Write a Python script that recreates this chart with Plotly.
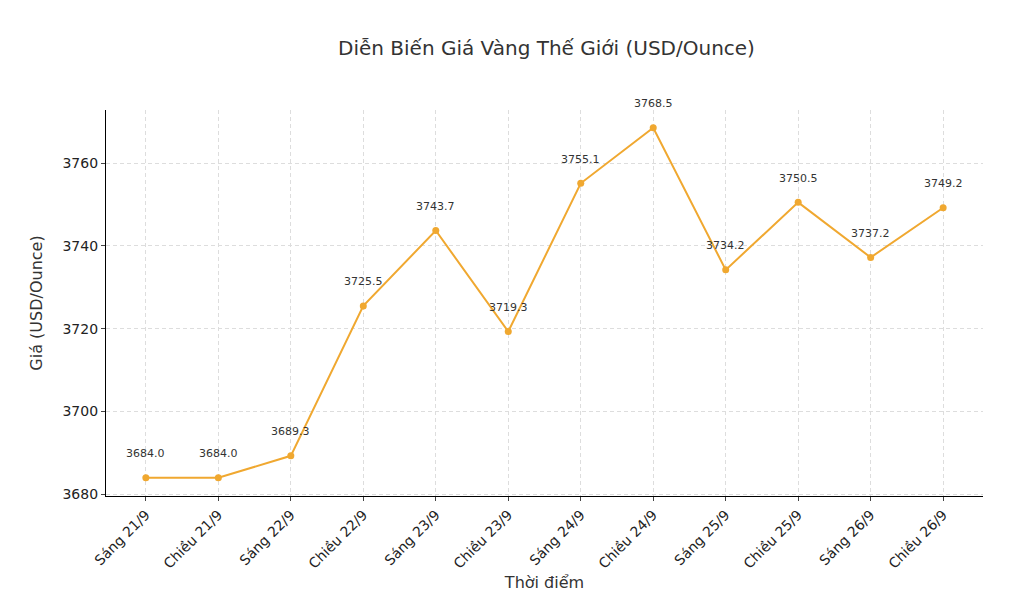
import plotly.graph_objects as go

thoi_diem = ["Sáng 21/9", "Chiều 21/9", "Sáng 22/9", "Chiều 22/9", "Sáng 23/9", "Chiều 23/9",
             "Sáng 24/9", "Chiều 24/9", "Sáng 25/9", "Chiều 25/9", "Sáng 26/9", "Chiều 26/9"]
gia = [3684.0, 3684.0, 3689.3, 3725.5, 3743.7, 3719.3, 3755.1, 3768.5, 3734.2, 3750.5, 3737.2, 3749.2]

font = "DejaVu Sans"
fig = go.Figure()
fig.add_trace(go.Scatter(x=list(range(len(gia))), y=gia, mode="lines+markers",
                         line=dict(color="#f0a830", width=2),
                         marker=dict(color="#f0a830", size=7), showlegend=False))

for i, v in enumerate(gia):
    fig.add_annotation(x=i, y=v, text="%.1f" % v, showarrow=False, yshift=24,
                       font=dict(family=font, size=11, color="#333333"))

grid = dict(showgrid=True, gridcolor="#dddddd", griddash="4px,3px", gridwidth=1,
            showline=True, linecolor="black", linewidth=1.2, ticks="outside",
            ticklen=4, tickfont=dict(family=font, size=14, color="#222"), zeroline=False)

fig.update_layout(
    width=1016, height=604,
    paper_bgcolor="white", plot_bgcolor="white",
    margin=dict(l=98, r=41, t=102, b=116),
    title=dict(text="Diễn Biến Giá Vàng Thế Giới (USD/Ounce)", x=0.53, y=0.945, xanchor="center",
               font=dict(family=font, size=20, color="#333")),
    xaxis=dict(grid, tickvals=list(range(len(gia))), ticktext=thoi_diem, tickangle=-45,
               range=[-0.55, 11.55],
               title=dict(text="Thời điểm", font=dict(family=font, size=16, color="#333"), standoff=6)),
    yaxis=dict(grid, range=[3679.6, 3772.8], tickvals=[3680, 3700, 3720, 3740, 3760],
               title=dict(text="Giá (USD/Ounce)", font=dict(family=font, size=16, color="#333"))),
)
fig.write_html("out.html")
